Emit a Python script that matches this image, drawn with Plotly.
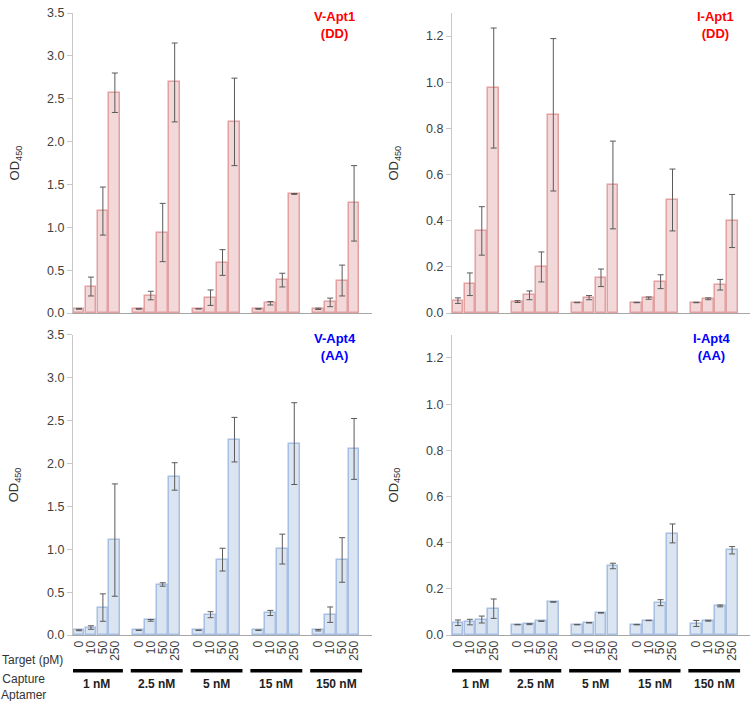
import plotly.graph_objects as go

# Data (OD450 means and error bars), 5 capture-aptamer groups x 4 target levels
capture = ["1 nM", "2.5 nM", "5 nM", "15 nM", "150 nM"]
targets = ["0", "10", "50", "250"]

v_apt1 = [[0.05, 0.31, 1.19, 2.57],
          [0.05, 0.205, 0.94, 2.69],
          [0.05, 0.18, 0.59, 2.23],
          [0.05, 0.115, 0.385, 1.39],
          [0.05, 0.125, 0.38, 1.28]]
v_apt1_err = [[0.005, 0.11, 0.28, 0.23],
              [0.005, 0.05, 0.34, 0.46],
              [0.0, 0.09, 0.15, 0.51],
              [0.005, 0.02, 0.08, 0.005],
              [0.008, 0.05, 0.18, 0.44]]

i_apt1 = [[0.054, 0.125, 0.356, 0.975],
          [0.05, 0.077, 0.20, 0.859],
          [0.046, 0.067, 0.153, 0.555],
          [0.046, 0.065, 0.136, 0.49],
          [0.046, 0.062, 0.123, 0.399]]
i_apt1_err = [[0.012, 0.049, 0.105, 0.26],
              [0.004, 0.019, 0.065, 0.33],
              [0.001, 0.009, 0.038, 0.19],
              [0.001, 0.005, 0.03, 0.134],
              [0.001, 0.004, 0.023, 0.115]]

v_apt4 = [[0.055, 0.087, 0.32, 1.107],
          [0.055, 0.171, 0.589, 1.849],
          [0.055, 0.237, 0.879, 2.278],
          [0.055, 0.257, 1.002, 2.232],
          [0.055, 0.237, 0.875, 2.17]]
v_apt4_err = [[0.005, 0.02, 0.16, 0.655],
              [0.003, 0.01, 0.02, 0.16],
              [0.003, 0.035, 0.133, 0.26],
              [0.003, 0.03, 0.174, 0.477],
              [0.008, 0.09, 0.26, 0.355]]

i_apt4 = [[0.053, 0.056, 0.067, 0.114],
          [0.045, 0.047, 0.06, 0.143],
          [0.045, 0.053, 0.096, 0.299],
          [0.045, 0.063, 0.14, 0.44],
          [0.05, 0.062, 0.126, 0.367]]
i_apt4_err = [[0.012, 0.012, 0.015, 0.042],
              [0.001, 0.002, 0.001, 0.001],
              [0.001, 0.001, 0.001, 0.012],
              [0.001, 0.001, 0.013, 0.041],
              [0.013, 0.002, 0.004, 0.016]]

RED_FILL, RED_LINE = "#f3d8d9", "#e3a0a1"
BLUE_FILL, BLUE_LINE = "#dbe5f2", "#a7bfe2"
TICK_COLOR = "#404040"
FONT = "Liberation Sans, Arial, sans-serif"

# bar positions: 4 bars per group, one empty slot between groups
xpos = [g * 5 + i + 0.5 for g in range(len(capture)) for i in range(len(targets))]
xlabels = [t for _ in capture for t in targets]


def flat(rows):
    return [v for r in rows for v in r]


panels = [
    (v_apt1, v_apt1_err, RED_FILL, RED_LINE, "x", "y"),
    (i_apt1, i_apt1_err, RED_FILL, RED_LINE, "x2", "y2"),
    (v_apt4, v_apt4_err, BLUE_FILL, BLUE_LINE, "x3", "y3"),
    (i_apt4, i_apt4_err, BLUE_FILL, BLUE_LINE, "x4", "y4"),
]

fig = go.Figure()
for vals, errs, fill, line, xa, ya in panels:
    fig.add_trace(go.Bar(
        x=xpos, y=flat(vals), width=0.9,
        marker=dict(color=fill, line=dict(color=line, width=1.5)),
        error_y=dict(type="data", array=flat(errs), color="#5a5a5a",
                     thickness=1, width=3),
        xaxis=xa, yaxis=ya, showlegend=False,
    ))

xdom_l, xdom_r = [0, 0.4417], [0.5598, 1]
ydom_t, ydom_b = [0.5175, 1], [0, 0.4825]

xaxis_common = dict(range=[0, 25], showline=True, linecolor="#a6a6a6",
                    linewidth=1, showgrid=False, zeroline=False,
                    tickvals=xpos, ticktext=xlabels, tickangle=-90,
                    ticks="", tickfont=dict(size=12, color=TICK_COLOR))
yaxis_common = dict(showline=True, linecolor="#c8c8c8", linewidth=1,
                    showgrid=False, zeroline=False, ticks="outside",
                    ticklen=5, tickcolor="#c8c8c8", tickformat=".1f",
                    tickfont=dict(size=12.5, color=TICK_COLOR))

fig.update_layout(
    xaxis=dict(domain=xdom_l, anchor="y", showticklabels=False, **xaxis_common),
    xaxis2=dict(domain=xdom_r, anchor="y2", showticklabels=False, **xaxis_common),
    xaxis3=dict(domain=xdom_l, anchor="y3", **xaxis_common),
    xaxis4=dict(domain=xdom_r, anchor="y4", **xaxis_common),
    yaxis=dict(domain=ydom_t, anchor="x", range=[0, 3.5], dtick=0.5, **yaxis_common),
    yaxis2=dict(domain=ydom_t, anchor="x2", range=[0, 1.3], dtick=0.2, **yaxis_common),
    yaxis3=dict(domain=ydom_b, anchor="x3", range=[0, 3.5], dtick=0.5, **yaxis_common),
    yaxis4=dict(domain=ydom_b, anchor="x4", range=[0, 1.3], dtick=0.2, **yaxis_common),
    width=756, height=701,
    margin=dict(l=73, r=6, t=7, b=66),
    plot_bgcolor="white", paper_bgcolor="white",
    font=dict(family=FONT, size=12, color="#333333"),
    bargap=0,
)

# panel titles
titles = [("V-Apt1<br>(DD)", "red", "x", "y", 0.876),
          ("I-Apt1<br>(DD)", "red", "x2", "y2", 0.883),
          ("V-Apt4<br>(AA)", "#0000ff", "x3", "y3", 0.876),
          ("I-Apt4<br>(AA)", "#0000ff", "x4", "y4", 0.872)]
for text, col, xa, ya, xx in titles:
    fig.add_annotation(text=f"<b>{text}</b>", xref=f"{xa} domain", yref=f"{ya} domain",
                       x=xx, y=1.019, xanchor="center", yanchor="top", showarrow=False,
                       font=dict(size=13, color=col, family=FONT))

# y axis titles
for xa, ya, xx in [("x", "y", -0.228), ("x2", "y2", -0.228),
                   ("x3", "y3", -0.228), ("x4", "y4", -0.228)]:
    fig.add_annotation(text="OD<sub>450</sub>", xref=f"{xa} domain", yref=f"{ya} domain",
                       x=xx, y=0.5, textangle=-90, showarrow=False,
                       font=dict(size=13, color="#333333", family=FONT))

# group underlines and capture-aptamer labels on bottom panels
for xa in ["x3", "x4"]:
    for g, name in enumerate(capture):
        fig.add_shape(type="line", xref=xa, yref="paper",
                      x0=g * 5 - 0.17, x1=g * 5 + 4.17, y0=-0.0573, y1=-0.0573,
                      line=dict(color="black", width=3.5))
        fig.add_annotation(text=f"<b>{name}</b>", xref=xa, yref="paper",
                           x=g * 5 + 2, y=-0.078, xanchor="center", yanchor="middle",
                           showarrow=False, font=dict(size=12, color="#222222", family=FONT))

fig.add_annotation(text="Target (pM)", xref="paper", yref="paper",
                   x=-0.0118, y=-0.0398, xanchor="right", yanchor="middle",
                   showarrow=False, font=dict(size=12, color="#333333", family=FONT))
fig.add_annotation(text="Capture<br>Aptamer", xref="paper", yref="paper",
                   x=-0.0724, y=-0.0835, xanchor="center", yanchor="middle",
                   showarrow=False, font=dict(size=12, color="#333333", family=FONT))

fig.write_html("out.html", config={"displayModeBar": False},
               post_script="document.body.style.margin='0';")
